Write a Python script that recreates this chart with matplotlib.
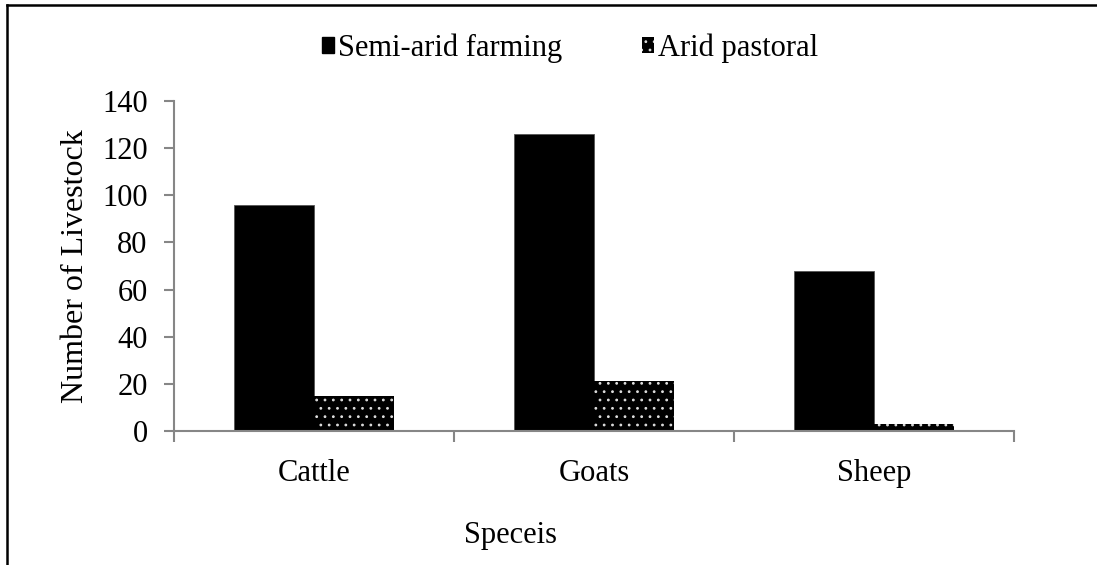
import numpy as np
import matplotlib
matplotlib.use("Agg")
import matplotlib.pyplot as plt
from matplotlib.lines import Line2D
from matplotlib.patches import Patch

plt.rcParams["font.family"] = ["Liberation Serif", "DejaVu Serif"]
plt.rcParams["hatch.linewidth"] = 0.8

# ── Data ───────────────────────────────────────────────────────────────
species = ["Cattle", "Goats", "Sheep"]
semi_arid = [96, 126, 68]
arid = [15, 21, 3]
series_names = ["Semi-arid farming", "Arid pastoral"]
y_ticks = [0, 20, 40, 60, 80, 100, 120, 140]

fig = plt.figure(figsize=(10.97, 5.65), dpi=100)
ax = fig.add_axes([0.1586, 0.2372, 0.7657, 0.584])

x = np.arange(len(species))
w = 0.285
ax.bar(x - w / 2, semi_arid, w, color="black", edgecolor="#555555", linewidth=0.6)
ax.bar(x + w / 2, arid, w, color="black", edgecolor="#dddddd", hatch="..", linewidth=0)

ax.set_xlim(-0.5, len(species) - 0.5)
ax.set_ylim(0, 140)
ax.set_yticks(y_ticks)
ax.set_xticks(x)
ax.set_xticklabels(species, fontsize=22)
ax.set_xticks(np.arange(len(species) + 1) - 0.5, minor=True)
ax.tick_params(axis="x", which="major", length=0, pad=20)
ax.tick_params(axis="x", which="minor", length=8, color="#868686", width=1.5)
ax.tick_params(axis="y", labelsize=22, length=7, color="#868686", width=1.5, pad=12)

for s in ["top", "right"]:
    ax.spines[s].set_visible(False)
for s in ["left", "bottom"]:
    ax.spines[s].set_color("#868686")
    ax.spines[s].set_linewidth(1.5)

ax.set_ylabel("Number of Livestock", fontsize=23)
ax.yaxis.set_label_coords(-0.1, 0.5)
fig.text(511 / 1097, 1 - 535 / 565, "Speceis", fontsize=22, ha="center", va="center")

handles = [
    Patch(facecolor="black", edgecolor="black"),
    Patch(facecolor="black", edgecolor="#dddddd", hatch="..", linewidth=0),
]
fig.legend(handles, series_names, loc="center", bbox_to_anchor=(570 / 1097, 1 - 48 / 565),
           ncol=2, frameon=False, fontsize=22, handlelength=0.4, handleheight=0.4,
           handletextpad=0.12, columnspacing=2.6)

# outer border (only top and left visible in the reference)
fig.add_artist(Line2D([7 / 1097, 1.0], [1 - 5 / 565] * 2, color="black", lw=1.8,
                      transform=fig.transFigure))
fig.add_artist(Line2D([7 / 1097] * 2, [0.0, 1 - 5 / 565], color="black", lw=1.8,
                      transform=fig.transFigure))

fig.savefig("out.png", dpi=100)
